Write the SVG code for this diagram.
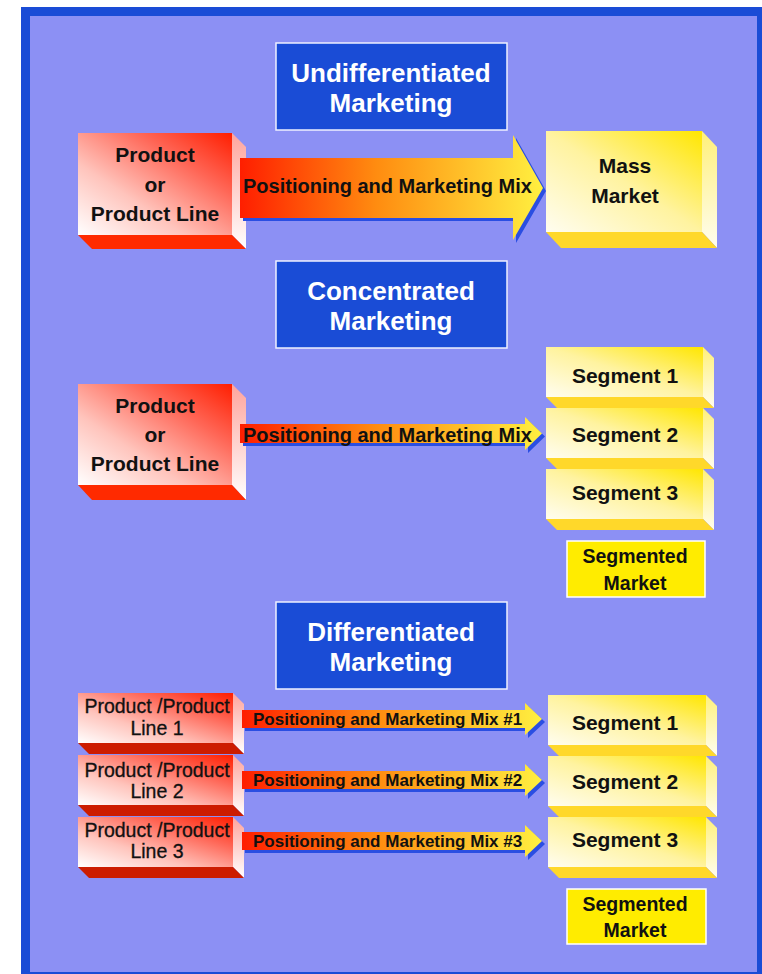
<svg xmlns="http://www.w3.org/2000/svg" width="762" height="974" viewBox="0 0 762 974">
  <defs>
    <!-- red product box faces -->
    <linearGradient id="redFront" x1="0" y1="1" x2="1" y2="0">
      <stop offset="0" stop-color="#ffffff"/>
      <stop offset="0.35" stop-color="#ffc4bc"/>
      <stop offset="0.7" stop-color="#ff6656"/>
      <stop offset="1" stop-color="#ff1e00"/>
    </linearGradient>
    <linearGradient id="redSide" x1="0" y1="0" x2="0" y2="1">
      <stop offset="0" stop-color="#ffa49c"/>
      <stop offset="1" stop-color="#ffffff"/>
    </linearGradient>
    <!-- yellow market box faces -->
    <linearGradient id="yelFront" x1="0" y1="1" x2="1" y2="0">
      <stop offset="0" stop-color="#fffdf0"/>
      <stop offset="0.5" stop-color="#fff3a0"/>
      <stop offset="1" stop-color="#ffe600"/>
    </linearGradient>
    <linearGradient id="yelSide" x1="0" y1="0" x2="0" y2="1">
      <stop offset="0" stop-color="#fff07a"/>
      <stop offset="1" stop-color="#fffdf0"/>
    </linearGradient>
    <!-- arrow fill -->
    <linearGradient id="arrowFill" x1="0" y1="0" x2="1" y2="0">
      <stop offset="0" stop-color="#ff1e00"/>
      <stop offset="0.45" stop-color="#ff8c10"/>
      <stop offset="1" stop-color="#fff040"/>
    </linearGradient>
    <style>
      .title { fill: #1a4cd6; stroke: #eef0ff; stroke-width: 1.5; }
      .titleText { font-family: "Liberation Sans", Arial, sans-serif; font-weight: bold; font-size: 26px; fill: #ffffff; text-anchor: middle; }
      .boxText { font-family: "Liberation Sans", Arial, sans-serif; font-weight: bold; font-size: 21px; fill: #111111; text-anchor: middle; }
      .smallText { font-family: "Liberation Sans", Arial, sans-serif; font-size: 19.5px; fill: #111111; text-anchor: middle; stroke: #111111; stroke-width: 0.3; }
      .arrowText { font-family: "Liberation Sans", Arial, sans-serif; font-weight: bold; font-size: 20px; fill: #111111; }
      .arrowTextSm { font-family: "Liberation Sans", Arial, sans-serif; font-weight: bold; font-size: 17px; fill: #111111; }
      .mktText { font-family: "Liberation Sans", Arial, sans-serif; font-weight: bold; font-size: 19.5px; fill: #111111; text-anchor: middle; }
      .redFront { fill: url(#redFront); }
      .redSide { fill: url(#redSide); }
      .redBottom { fill: #ff2a00; }
      .redBottomDark { fill: #cc1c00; }
      .yelFront { fill: url(#yelFront); }
      .yelSide { fill: url(#yelSide); }
      .yelBottom { fill: #ffd82a; }
      .arrow { fill: url(#arrowFill); }
      .arrowShadow { fill: #2a4ee2; }
      .mkt { fill: #ffec00; stroke: #ffffff; stroke-width: 1.5; }
    </style>
  </defs>

  <!-- frame -->
  <rect x="21" y="7" width="741" height="967" fill="#1a4cd6"/>
  <rect x="30" y="16" width="727" height="956" fill="#8c90f4"/>

  <!-- ===== Undifferentiated ===== -->
  <g id="title-undiff">
    <rect class="title" x="276" y="43" width="231" height="87"/>
    <text class="titleText" x="391" y="82">Undifferentiated</text>
    <text class="titleText" x="391" y="112">Marketing</text>
  </g>

  <g id="product-undiff">
    <rect class="redFront" x="78" y="133" width="154" height="102"/>
    <polygon class="redSide" points="232,133 246,147 246,249 232,235"/>
    <polygon class="redBottom" points="78,235 232,235 246,249 92,249"/>
    <text class="boxText" x="155" y="162">Product</text>
    <text class="boxText" x="155" y="192">or</text>
    <text class="boxText" x="155" y="221">Product Line</text>
  </g>

  <g id="mass-market">
    <rect class="yelFront" x="546" y="131" width="156" height="101"/>
    <polygon class="yelSide" points="702,131 717,147 717,248 702,232"/>
    <polygon class="yelBottom" points="546,232 702,232 717,248 561,248"/>
    <text class="boxText" x="625" y="173">Mass</text>
    <text class="boxText" x="625" y="203">Market</text>
  </g>

  <!-- ===== Concentrated ===== -->
  <g id="title-conc">
    <rect class="title" x="276" y="261" width="231" height="87"/>
    <text class="titleText" x="391" y="300">Concentrated</text>
    <text class="titleText" x="391" y="330">Marketing</text>
  </g>

  <g id="product-conc">
    <rect class="redFront" x="78" y="384" width="154" height="101"/>
    <polygon class="redSide" points="232,384 246,398 246,500 232,485"/>
    <polygon class="redBottom" points="78,485 232,485 246,500 92,500"/>
    <text class="boxText" x="155" y="413">Product</text>
    <text class="boxText" x="155" y="442">or</text>
    <text class="boxText" x="155" y="471">Product Line</text>
  </g>

  <g id="segment-conc-1">
    <rect class="yelFront" x="546" y="347" width="157" height="50"/>
    <polygon class="yelSide" points="703,347 714,358 714,408 703,397"/>
    <polygon class="yelBottom" points="546,397 703,397 714,408 557,408"/>
    <text class="boxText" x="625" y="383">Segment 1</text>
  </g>
  <g id="segment-conc-2">
    <rect class="yelFront" x="546" y="408" width="157" height="50"/>
    <polygon class="yelSide" points="703,408 714,419 714,469 703,458"/>
    <polygon class="yelBottom" points="546,458 703,458 714,469 557,469"/>
    <text class="boxText" x="625" y="442">Segment 2</text>
  </g>
  <g id="segment-conc-3">
    <rect class="yelFront" x="546" y="469" width="157" height="50"/>
    <polygon class="yelSide" points="703,469 714,480 714,530 703,519"/>
    <polygon class="yelBottom" points="546,519 703,519 714,530 557,530"/>
    <text class="boxText" x="625" y="500">Segment 3</text>
  </g>

  <g id="segmented-market-conc">
    <rect class="mkt" x="567" y="541" width="138" height="56"/>
    <text class="mktText" x="635" y="563">Segmented</text>
    <text class="mktText" x="635" y="590">Market</text>
  </g>

  <!-- ===== Differentiated ===== -->
  <g id="title-diff">
    <rect class="title" x="276" y="602" width="231" height="87"/>
    <text class="titleText" x="391" y="641">Differentiated</text>
    <text class="titleText" x="391" y="671">Marketing</text>
  </g>

  <g id="product-diff-1">
    <rect class="redFront" x="78" y="693" width="155" height="50"/>
    <polygon class="redSide" points="233,693 244,704 244,754 233,743"/>
    <polygon class="redBottomDark" points="78,743 233,743 244,754 89,754"/>
    <text class="smallText" x="157" y="713">Product /Product</text>
    <text class="smallText" x="157" y="735">Line 1</text>
  </g>
  <g id="product-diff-2">
    <rect class="redFront" x="78" y="755" width="155" height="50"/>
    <polygon class="redSide" points="233,755 244,766 244,816 233,805"/>
    <polygon class="redBottomDark" points="78,805 233,805 244,816 89,816"/>
    <text class="smallText" x="157" y="777">Product /Product</text>
    <text class="smallText" x="157" y="798">Line 2</text>
  </g>
  <g id="product-diff-3">
    <rect class="redFront" x="78" y="817" width="155" height="50"/>
    <polygon class="redSide" points="233,817 244,828 244,878 233,867"/>
    <polygon class="redBottomDark" points="78,867 233,867 244,878 89,878"/>
    <text class="smallText" x="157" y="837">Product /Product</text>
    <text class="smallText" x="157" y="858">Line 3</text>
  </g>

  <g id="segment-diff-1">
    <rect class="yelFront" x="548" y="695" width="158" height="50"/>
    <polygon class="yelSide" points="706,695 717,706 717,756 706,745"/>
    <polygon class="yelBottom" points="548,745 706,745 717,756 559,756"/>
    <text class="boxText" x="625" y="730">Segment 1</text>
  </g>
  <g id="segment-diff-2">
    <rect class="yelFront" x="548" y="756" width="158" height="50"/>
    <polygon class="yelSide" points="706,756 717,767 717,817 706,806"/>
    <polygon class="yelBottom" points="548,806 706,806 717,817 559,817"/>
    <text class="boxText" x="625" y="789">Segment 2</text>
  </g>
  <g id="segment-diff-3">
    <rect class="yelFront" x="548" y="817" width="158" height="50"/>
    <polygon class="yelSide" points="706,817 717,828 717,878 706,867"/>
    <polygon class="yelBottom" points="548,867 706,867 717,878 559,878"/>
    <text class="boxText" x="625" y="847">Segment 3</text>
  </g>

  <g id="segmented-market-diff">
    <rect class="mkt" x="567" y="889" width="139" height="55"/>
    <text class="mktText" x="635" y="911">Segmented</text>
    <text class="mktText" x="635" y="937">Market</text>
  </g>

  <!-- connectors: gradient arrows with a blue drop shadow -->
  <g id="connectors">
    <path class="arrowShadow" transform="translate(3,3)" d="M240,158 H513 V135 L543,188 L513,240 V218 H240 Z"/>
    <path class="arrow" d="M240,158 H513 V135 L543,188 L513,240 V218 H240 Z"/>
    <text class="arrowText" x="243" y="193">Positioning and Marketing Mix</text>

    <path class="arrowShadow" transform="translate(3,3)" d="M240,424 H525 V417 L542,433.5 L525,450 V443 H240 Z"/>
    <path class="arrow" d="M240,424 H525 V417 L542,433.5 L525,450 V443 H240 Z"/>
    <text class="arrowText" x="243" y="442">Positioning and Marketing Mix</text>

    <path class="arrowShadow" transform="translate(3,3)" d="M242,710 H525 V703 L542,719 L525,735 V728 H242 Z"/>
    <path class="arrow" d="M242,710 H525 V703 L542,719 L525,735 V728 H242 Z"/>
    <text class="arrowTextSm" x="253" y="725">Positioning and Marketing Mix #1</text>

    <path class="arrowShadow" transform="translate(3,3)" d="M242,771 H525 V764 L542,780 L525,796 V789 H242 Z"/>
    <path class="arrow" d="M242,771 H525 V764 L542,780 L525,796 V789 H242 Z"/>
    <text class="arrowTextSm" x="253" y="786">Positioning and Marketing Mix #2</text>

    <path class="arrowShadow" transform="translate(3,3)" d="M242,832 H525 V825 L542,841 L525,857 V850 H242 Z"/>
    <path class="arrow" d="M242,832 H525 V825 L542,841 L525,857 V850 H242 Z"/>
    <text class="arrowTextSm" x="253" y="847">Positioning and Marketing Mix #3</text>
  </g>
</svg>
